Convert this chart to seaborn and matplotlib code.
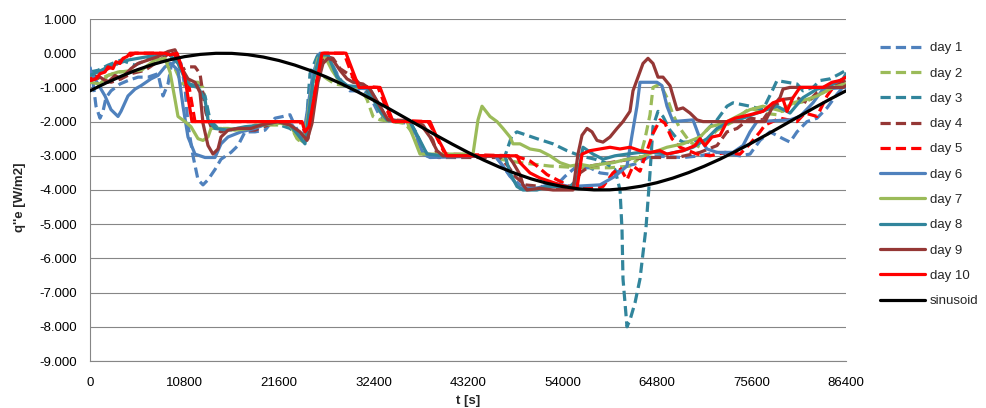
import matplotlib
matplotlib.use("Agg")
import matplotlib.pyplot as plt
import seaborn as sns
import pandas as pd
import numpy as np
from matplotlib.ticker import FuncFormatter, MultipleLocator

# ---------------- data (t [s], q''e [W/m2]) ----------------
day1 = [(0,-0.4),(343,-0.85),(686,-1.55),(1143,-1.9),(1486,-1.7),(1829,-1.3),(2400,-1.1),(3429,-0.9),
        (4343,-0.8),(5486,-0.7),(6629,-0.7),(7771,-0.6),(8343,-1.25),(8914,-0.9),(9257,-0.4),(9714,-0.2),
        (10400,-0.3),(10857,-1.0),(11200,-2.1),(11771,-3.0),(12343,-3.7),(12914,-3.85),(13486,-3.7),
        (14286,-3.4),(14971,-3.1),(16114,-2.9),(16914,-2.7),(17714,-2.3),(18857,-2.3),(20000,-2.25),
        (21143,-1.9),(22057,-1.85),(22857,-1.8),(23200,-2.0),(24000,-2.4),(24343,-2.55),(25143,-1.55),
        (25714,-0.4),(26057,-0.05),(26629,0.0),(27429,-0.2),(28229,-0.6),(28914,-0.9),(29714,-1.1),
        (31200,-1.1),(32000,-1.25),(33143,-1.85),(34286,-2.0),(36571,-2.05),(37371,-2.35),(38057,-2.85),
        (38857,-3.0),(46286,-3.0),(47200,-3.3),(48000,-3.6),(49143,-3.85),(50857,-3.95),(53143,-3.9),
        (54286,-3.6),(55429,-3.35),(57143,-3.35),(58286,-3.5),(59771,-3.55),(61371,-3.3),(62857,-3.2),
        (64000,-3.0),(67771,-3.05),(69714,-3.0),(71657,-2.9),(74286,-3.0),(75429,-2.95),(76571,-2.55),
        (77714,-2.3),(79200,-2.5),(80000,-2.6),(80800,-2.3),(81943,-2.0),(83086,-1.9),(84229,-1.6),
        (85371,-1.2),(86400,-0.9)]
day2 = [(0,-0.65),(1143,-0.75),(2057,-0.65),(3200,-0.55),(5714,-0.5),(7429,-0.3),(8571,-0.2),(9714,-0.45),
        (10514,-0.9),(11429,-0.85),(12343,-0.85),(12914,-1.0),(13486,-1.9),(14286,-2.2),(15771,-2.2),
        (17486,-2.25),(18857,-2.1),(20571,-2.1),(22857,-2.1),(23657,-2.5),(24343,-2.65),(25143,-1.75),
        (25714,-0.9),(26286,-0.6),(27086,-0.75),(28000,-0.9),(29143,-0.95),(30857,-1.0),(31657,-1.35),
        (32343,-1.85),(33143,-1.95),(36000,-2.05),(36914,-2.35),(37714,-2.75),(38514,-3.0),(45714,-3.0),
        (46857,-3.1),(49143,-3.2),(52571,-3.3),(56000,-3.35),(59429,-3.35),(61714,-3.3),(62857,-3.05),
        (63429,-2.5),(64000,-1.8),(64343,-1.0),(65143,-0.9),(65943,-1.3),(66629,-1.8),(67429,-2.2),
        (68571,-2.6),(69714,-2.75),(71657,-2.25),(73486,-2.0),(75429,-1.6),(76914,-1.75),(78514,-1.8),
        (80000,-1.5),(81943,-1.4),(83086,-1.25),(84914,-1.0),(86400,-0.85)]
day3 = [(0,-0.55),(914,-0.5),(2057,-0.35),(3543,-0.2),(5143,-0.35),(6857,-0.15),(8914,0.0),(9943,-0.2),
        (11200,-0.9),(12343,-0.95),(13143,-1.25),(13714,-1.95),(14629,-2.2),(16571,-2.25),(18857,-2.15),
        (21143,-2.05),(22857,-2.2),(24000,-2.45),(24571,-2.6),(25143,-0.6),(25943,-0.1),(26286,0.0),
        (27200,-0.15),(28229,-0.7),(29143,-0.95),(31429,-1.05),(33143,-1.65),(33943,-1.95),(36571,-2.0),
        (37714,-2.6),(38514,-2.95),(40343,-3.0),(47429,-3.0),(48229,-2.4),(48800,-2.3),(51086,-2.5),
        (52914,-2.65),(54514,-2.85),(56000,-3.0),(57714,-3.1),(58857,-3.2),(60000,-3.4),(60571,-4.0),
        (60800,-5.15),(60914,-6.6),(61371,-8.0),(61714,-7.8),(62286,-7.3),(62857,-6.6),(63200,-5.85),
        (63543,-5.1),(63771,-4.3),(64000,-3.5),(64343,-2.15),(64914,-1.7),(65486,-1.85),(66286,-2.25),
        (67086,-2.5),(67771,-2.6),(68914,-2.6),(69714,-2.45),(70857,-2.15),(71657,-1.95),(72800,-1.55),
        (73486,-1.45),(75429,-1.55),(76914,-1.65),(78057,-1.05),(78514,-0.8),(79657,-0.85),(80800,-0.9),
        (81486,-1.1),(82629,-1.0),(83429,-0.8),(84571,-0.75),(85714,-0.6),(86400,-0.5)]
day4 = [(0,-0.6),(1257,-0.75),(2400,-0.85),(3543,-0.75),(4686,-0.6),(6286,-0.5),(7429,-0.3),(8571,-0.1),
        (9257,0.05),(9829,-0.1),(10400,-0.5),(11200,-0.4),(12000,-0.4),(12571,-0.6),(12914,-1.2),
        (13257,-1.75),(13829,-2.15),(14971,-2.3),(16114,-2.2),(17486,-2.25),(18857,-2.25),(20343,-2.1),
        (21714,-2.0),(23086,-2.15),(24229,-2.4),(24914,-2.5),(25714,-1.0),(26514,-0.2),(27086,-0.1),
        (27771,-0.15),(28571,-0.45),(30057,-0.7),(30857,-0.9),(31657,-1.05),(33143,-1.55),(33943,-1.95),
        (36571,-2.0),(38057,-2.1),(39200,-2.55),(39771,-3.05),(46857,-3.05),(47771,-3.3),(48571,-3.6),
        (49714,-3.85),(53714,-3.95),(55429,-3.9),(56000,-3.5),(57143,-3.3),(59429,-3.2),(61714,-3.1),
        (64000,-3.05),(67086,-3.05),(69714,-2.9),(71657,-2.7),(72800,-2.3),(73943,-2.2),(75429,-1.9),
        (76914,-1.95),(77714,-1.65),(79200,-1.35),(80800,-1.3),(81943,-1.45),(83086,-1.15),(84571,-1.0),
        (85714,-0.85),(86400,-0.8)]
day5 = [(0,-0.75),(914,-0.7),(1714,-0.5),(2857,-0.35),(4000,-0.15),(5143,0.0),(8000,0.0),(9714,-0.05),
        (10514,-0.5),(11200,-0.8),(12000,-2.0),(24000,-2.0),(24457,-2.25),(25143,-2.0),(26286,-0.3),
        (26743,0.0),(29029,0.0),(30400,-0.95),(32914,-1.0),(34400,-1.95),(38629,-2.0),(39314,-2.3),
        (40571,-2.95),(48571,-3.0),(49143,-3.05),(50286,-3.15),(51086,-3.3),(52229,-3.55),(53371,-3.7),
        (54857,-3.9),(56571,-3.95),(57943,-3.95),(58629,-3.9),(59771,-3.5),(60571,-3.35),(61371,-3.7),
        (62057,-3.3),(62857,-3.45),(63657,-2.85),(64343,-2.35),(65143,-1.95),(65714,-2.05),(66514,-2.5),
        (67429,-2.75),(69371,-2.95),(70857,-3.0),(72571,-2.9),(74286,-2.95),(75429,-2.65),(76571,-2.3),
        (77143,-2.1),(78857,-1.9),(80800,-2.0),(81714,-1.75),(83086,-1.85),(84229,-1.25),(85371,-0.85),
        (86400,-0.75)]
day6 = [(0,-0.5),(571,-0.75),(1714,-1.25),(2400,-1.65),(3200,-1.85),(3543,-1.7),(4343,-1.25),(5143,-1.05),
        (5829,-0.95),(6971,-0.75),(7771,-0.65),(8571,-0.4),(9257,-0.3),(10057,-0.5),(10629,-1.55),
        (11200,-2.45),(12000,-2.95),(13143,-3.05),(14286,-3.05),(14971,-2.65),(15771,-2.45),(17257,-2.3),
        (18857,-2.2),(20343,-2.05),(21714,-2.0),(23086,-2.1),(24343,-2.5),(25486,-0.6),(26286,0.0),
        (26971,-0.05),(27771,-0.4),(28571,-0.8),(29714,-1.0),(32000,-1.05),(33143,-1.55),(33943,-1.95),
        (36571,-2.0),(37371,-2.45),(38057,-2.95),(38857,-3.05),(46286,-3.0),(47200,-3.3),(48343,-3.7),
        (49143,-3.95),(51086,-3.95),(52914,-3.8),(54857,-3.9),(58286,-3.85),(60000,-3.6),(61371,-3.3),
        (61943,-2.4),(62514,-1.55),(62857,-0.85),(64800,-0.85),(65371,-0.95),(65943,-1.55),(66629,-2.0),
        (68914,-1.95),(69714,-2.5),(70514,-2.8),(71657,-2.9),(73486,-2.9),(74629,-2.7),(75429,-2.3),
        (76229,-2.0),(80000,-1.95),(81143,-1.85),(82629,-1.45),(83771,-1.05),(86400,-1.0)]
day7 = [(0,-0.85),(1143,-0.9),(2057,-0.65),(3200,-0.55),(5829,-0.5),(7429,-0.2),(8571,-0.15),(9143,-0.55),
        (9714,-1.35),(10057,-1.85),(10857,-2.0),(11543,-2.15),(12343,-2.5),(12914,-2.55),(13486,-2.45),
        (13829,-2.2),(14971,-2.2),(16571,-2.25),(18286,-2.2),(19543,-2.1),(21714,-2.05),(22857,-2.1),
        (23771,-2.5),(24457,-2.6),(25371,-1.0),(26057,-0.15),(26857,-0.1),(27657,-0.5),(28571,-0.85),
        (29714,-1.0),(31771,-1.0),(32914,-1.6),(33714,-1.95),(36229,-2.0),(37029,-2.5),(37714,-2.95),
        (43771,-2.95),(44343,-1.95),(44800,-1.55),(45714,-1.85),(46514,-2.0),(47200,-2.2),(48000,-2.45),
        (48343,-2.65),(49143,-2.65),(50286,-2.8),(51429,-2.85),(52571,-3.0),(53714,-3.2),(54857,-3.3),
        (56000,-3.25),(57143,-3.3),(58286,-3.25),(59771,-3.2),(61371,-3.1),(62857,-3.05),(64343,-2.9),
        (65943,-2.75),(67771,-2.65),(69714,-2.45),(70857,-2.15),(71657,-2.1),(72800,-2.0),(75429,-1.65),
        (76914,-1.55),(79200,-1.7),(80343,-1.45),(81943,-1.35),(83086,-1.25),(84914,-1.0),(86400,-0.9)]
day8 = [(0,-0.65),(914,-0.55),(2057,-0.4),(3200,-0.3),(4343,-0.2),(5486,-0.15),(6629,-0.1),(8114,-0.05),
        (8914,0.0),(10057,-0.3),(10857,-0.75),(11543,-0.95),(12343,-1.0),(13143,-1.35),(13486,-1.95),
        (14286,-2.2),(15771,-2.25),(17714,-2.15),(19657,-2.1),(21486,-2.0),(22857,-2.1),(23657,-2.35),
        (24571,-2.65),(25486,-0.8),(26286,-0.05),(27200,-0.05),(28229,-0.7),(29371,-0.95),(31657,-1.0),
        (33143,-1.7),(33943,-1.95),(36571,-2.0),(37714,-2.55),(38514,-2.95),(40343,-3.0),(47429,-3.0),
        (48000,-3.5),(48800,-3.9),(49486,-4.0),(51086,-4.0),(52229,-3.9),(54857,-3.9),(55657,-3.7),
        (56343,-2.75),(57486,-2.95),(58629,-3.1),(60000,-3.0),(61371,-2.95),(62857,-2.9),(64343,-2.9),
        (65943,-2.95),(67771,-2.85),(68914,-2.75),(70514,-2.5),(71657,-2.2),(73143,-2.0),(74629,-1.9),
        (76229,-1.75),(78514,-1.55),(80000,-1.75),(81486,-1.3),(83086,-1.05),(84571,-0.95),(86057,-0.75),
        (86400,-0.6)]
day9 = [(0,-0.8),(1143,-0.7),(2057,-0.85),(2857,-0.65),(3543,-0.75),(4686,-0.45),(5486,-0.3),(6629,-0.2),
        (7771,-0.1),(8914,0.05),(9714,0.1),(10057,-0.1),(10400,-0.4),(11200,-0.75),(12000,-0.85),
        (12571,-1.15),(12914,-2.05),(13486,-2.7),(14057,-2.95),(14629,-2.8),(14971,-2.45),(15771,-2.25),
        (16914,-2.2),(18400,-2.2),(19543,-2.1),(21486,-2.0),(22857,-2.1),(24000,-2.3),(24800,-2.55),
        (25371,-2.05),(26057,-0.85),(26629,-0.3),(27200,-0.15),(27771,-0.2),(28571,-0.5),(29371,-0.75),
        (30057,-0.85),(31200,-0.9),(32000,-1.05),(33143,-1.55),(34057,-1.95),(36571,-2.0),(37714,-2.05),
        (38857,-2.45),(39657,-2.85),(40343,-3.0),(47771,-3.0),(48343,-3.2),(49143,-3.55),(49486,-3.85),
        (49943,-4.0),(51429,-3.95),(52914,-4.0),(55200,-4.0),(55771,-2.95),(56229,-2.4),(56800,-2.2),
        (57371,-2.3),(57943,-2.55),(58629,-2.6),(59429,-2.45),(60229,-2.2),(60914,-2.0),(61714,-1.7),
        (62057,-1.1),(62629,-0.7),(63200,-0.3),(63771,-0.15),(64343,-0.3),(64914,-0.7),(65486,-0.7),
        (66286,-0.95),(67086,-1.65),(67771,-1.6),(68571,-1.75),(69371,-1.95),(70057,-2.0),(77143,-2.0),
        (78057,-1.55),(78857,-1.3),(79200,-1.05),(80000,-1.0),(86057,-1.0),(86400,-0.95)]
day10 = [(0,-0.8),(686,-0.75),(1143,-0.6),(1714,-0.55),(2057,-0.4),(2629,-0.45),(2971,-0.25),(3429,-0.3),
         (3771,-0.15),(4229,-0.1),(4571,0.0),(8571,0.0),(9143,-0.05),(9943,0.0),(10400,-0.35),(10857,-0.75),
         (11657,-2.0),(24229,-2.0),(24571,-2.3),(25029,-2.15),(26514,0.0),(29257,0.0),(30743,-1.0),
         (33143,-1.0),(34629,-2.0),(38857,-2.0),(39543,-2.4),(40800,-3.0),(48800,-3.0),(49143,-3.2),
         (50286,-3.5),(51429,-3.65),(52571,-3.75),(53714,-3.85),(55086,-3.95),(55657,-3.95),(56229,-2.95),
         (57143,-2.85),(58286,-2.8),(59429,-2.75),(60571,-2.8),(61714,-2.75),(62857,-2.85),(64000,-2.9),
         (65143,-2.85),(65943,-2.95),(67771,-2.85),(69143,-2.7),(69714,-2.5),(70286,-2.7),(71086,-2.45),
         (72000,-2.4),(72800,-2.0),(73714,-1.9),(75429,-1.8),(76914,-1.7),(78057,-1.45),(79200,-1.35),
         (79657,-1.7),(80343,-1.3),(81143,-1.0),(83771,-1.0),(84800,-0.85),(85714,-0.8),(86400,-0.7)]
sinusoid_t = list(range(0, 86401, 1800))
sinusoid_q = [-1.100,-0.874,-0.669,-0.485,-0.327,-0.199,-0.101,-0.035,-0.003,-0.005,-0.042,-0.112,
              -0.214,-0.347,-0.508,-0.695,-0.903,-1.131,-1.374,-1.627,-1.887,-2.148,-2.407,-2.659,
              -2.900,-3.126,-3.331,-3.515,-3.673,-3.801,-3.899,-3.965,-3.997,-3.995,-3.958,-3.888,
              -3.786,-3.653,-3.492,-3.305,-3.097,-2.869,-2.626,-2.373,-2.113,-1.852,-1.593,-1.341,-1.100]

series_names = ["day 1","day 2","day 3","day 4","day 5","day 6","day 7","day 8","day 9","day 10","sinusoid"]
series_data = [day1, day2, day3, day4, day5, day6, day7, day8, day9, day10,
               list(zip(sinusoid_t, sinusoid_q))]
series_colors = ["#4F81BD","#9BBB59","#31859C","#953735","#FF0000",
                 "#4F81BD","#9BBB59","#31859C","#953735","#FF0000","#000000"]
series_dashed = [True]*5 + [False]*6

x_ticks = list(range(0, 86401, 10800))
y_ticks = list(range(-9, 2))

# ---------------- figure ----------------
sns.set_theme(style="white")
plt.rcParams['font.family'] = ['Liberation Sans', 'DejaVu Sans']

W, H = 986, 408
fig = plt.figure(figsize=(W/100, H/100), dpi=100)
ax = fig.add_axes([90/W, 1-361/H, 756/W, 342/H])

grid_c = "#868686"
for name, pts, col, dsh in zip(series_names, series_data, series_colors, series_dashed):
    df = pd.DataFrame(pts, columns=["t", "q"])
    ls = (0, (3.2, 1.6)) if dsh else "-"
    sns.lineplot(data=df, x="t", y="q", ax=ax, color=col, lw=2.3, linestyle=ls,
                 estimator=None, sort=False, label=name, legend=False,
                 zorder=5 if name == "sinusoid" else 3)

ax.set_xlim(0, 86400)
ax.set_ylim(-9, 1)
ax.set_xticks(x_ticks)
ax.set_yticks(y_ticks)
ax.yaxis.set_major_formatter(FuncFormatter(lambda v, p: f"{v:.3f}"))
ax.xaxis.set_major_formatter(FuncFormatter(lambda v, p: f"{int(v)}"))
ax.yaxis.grid(True, color=grid_c, lw=0.8)
ax.xaxis.grid(False)
for s in ["top", "right"]:
    ax.spines[s].set_visible(False)
for s in ["left", "bottom"]:
    ax.spines[s].set_color(grid_c)
    ax.spines[s].set_linewidth(0.8)
ax.tick_params(axis="both", direction="out", length=4.5, width=0.8, color=grid_c,
               labelsize=9.5, labelcolor="black", pad=5)
ax.tick_params(axis="x", pad=7)

ax.set_xlabel("t [s]", fontsize=9.5, fontweight="bold")
ax.set_ylabel("q''e [W/m2]", fontsize=9.5, fontweight="bold")
ax.xaxis.set_label_coords(0.5, (361-395)/342)
ax.yaxis.set_label_coords((26-90)/756, (361-197)/342)

handles = ax.lines[:len(series_names)]
leg = fig.legend(handles, series_names, loc="upper left",
                 bbox_to_anchor=(880/W, 1-42/H), frameon=False, fontsize=9.5,
                 handlelength=3.4, handletextpad=0.4, labelspacing=0.99,
                 borderpad=0, borderaxespad=0)

fig.savefig("out.png", dpi=100)
